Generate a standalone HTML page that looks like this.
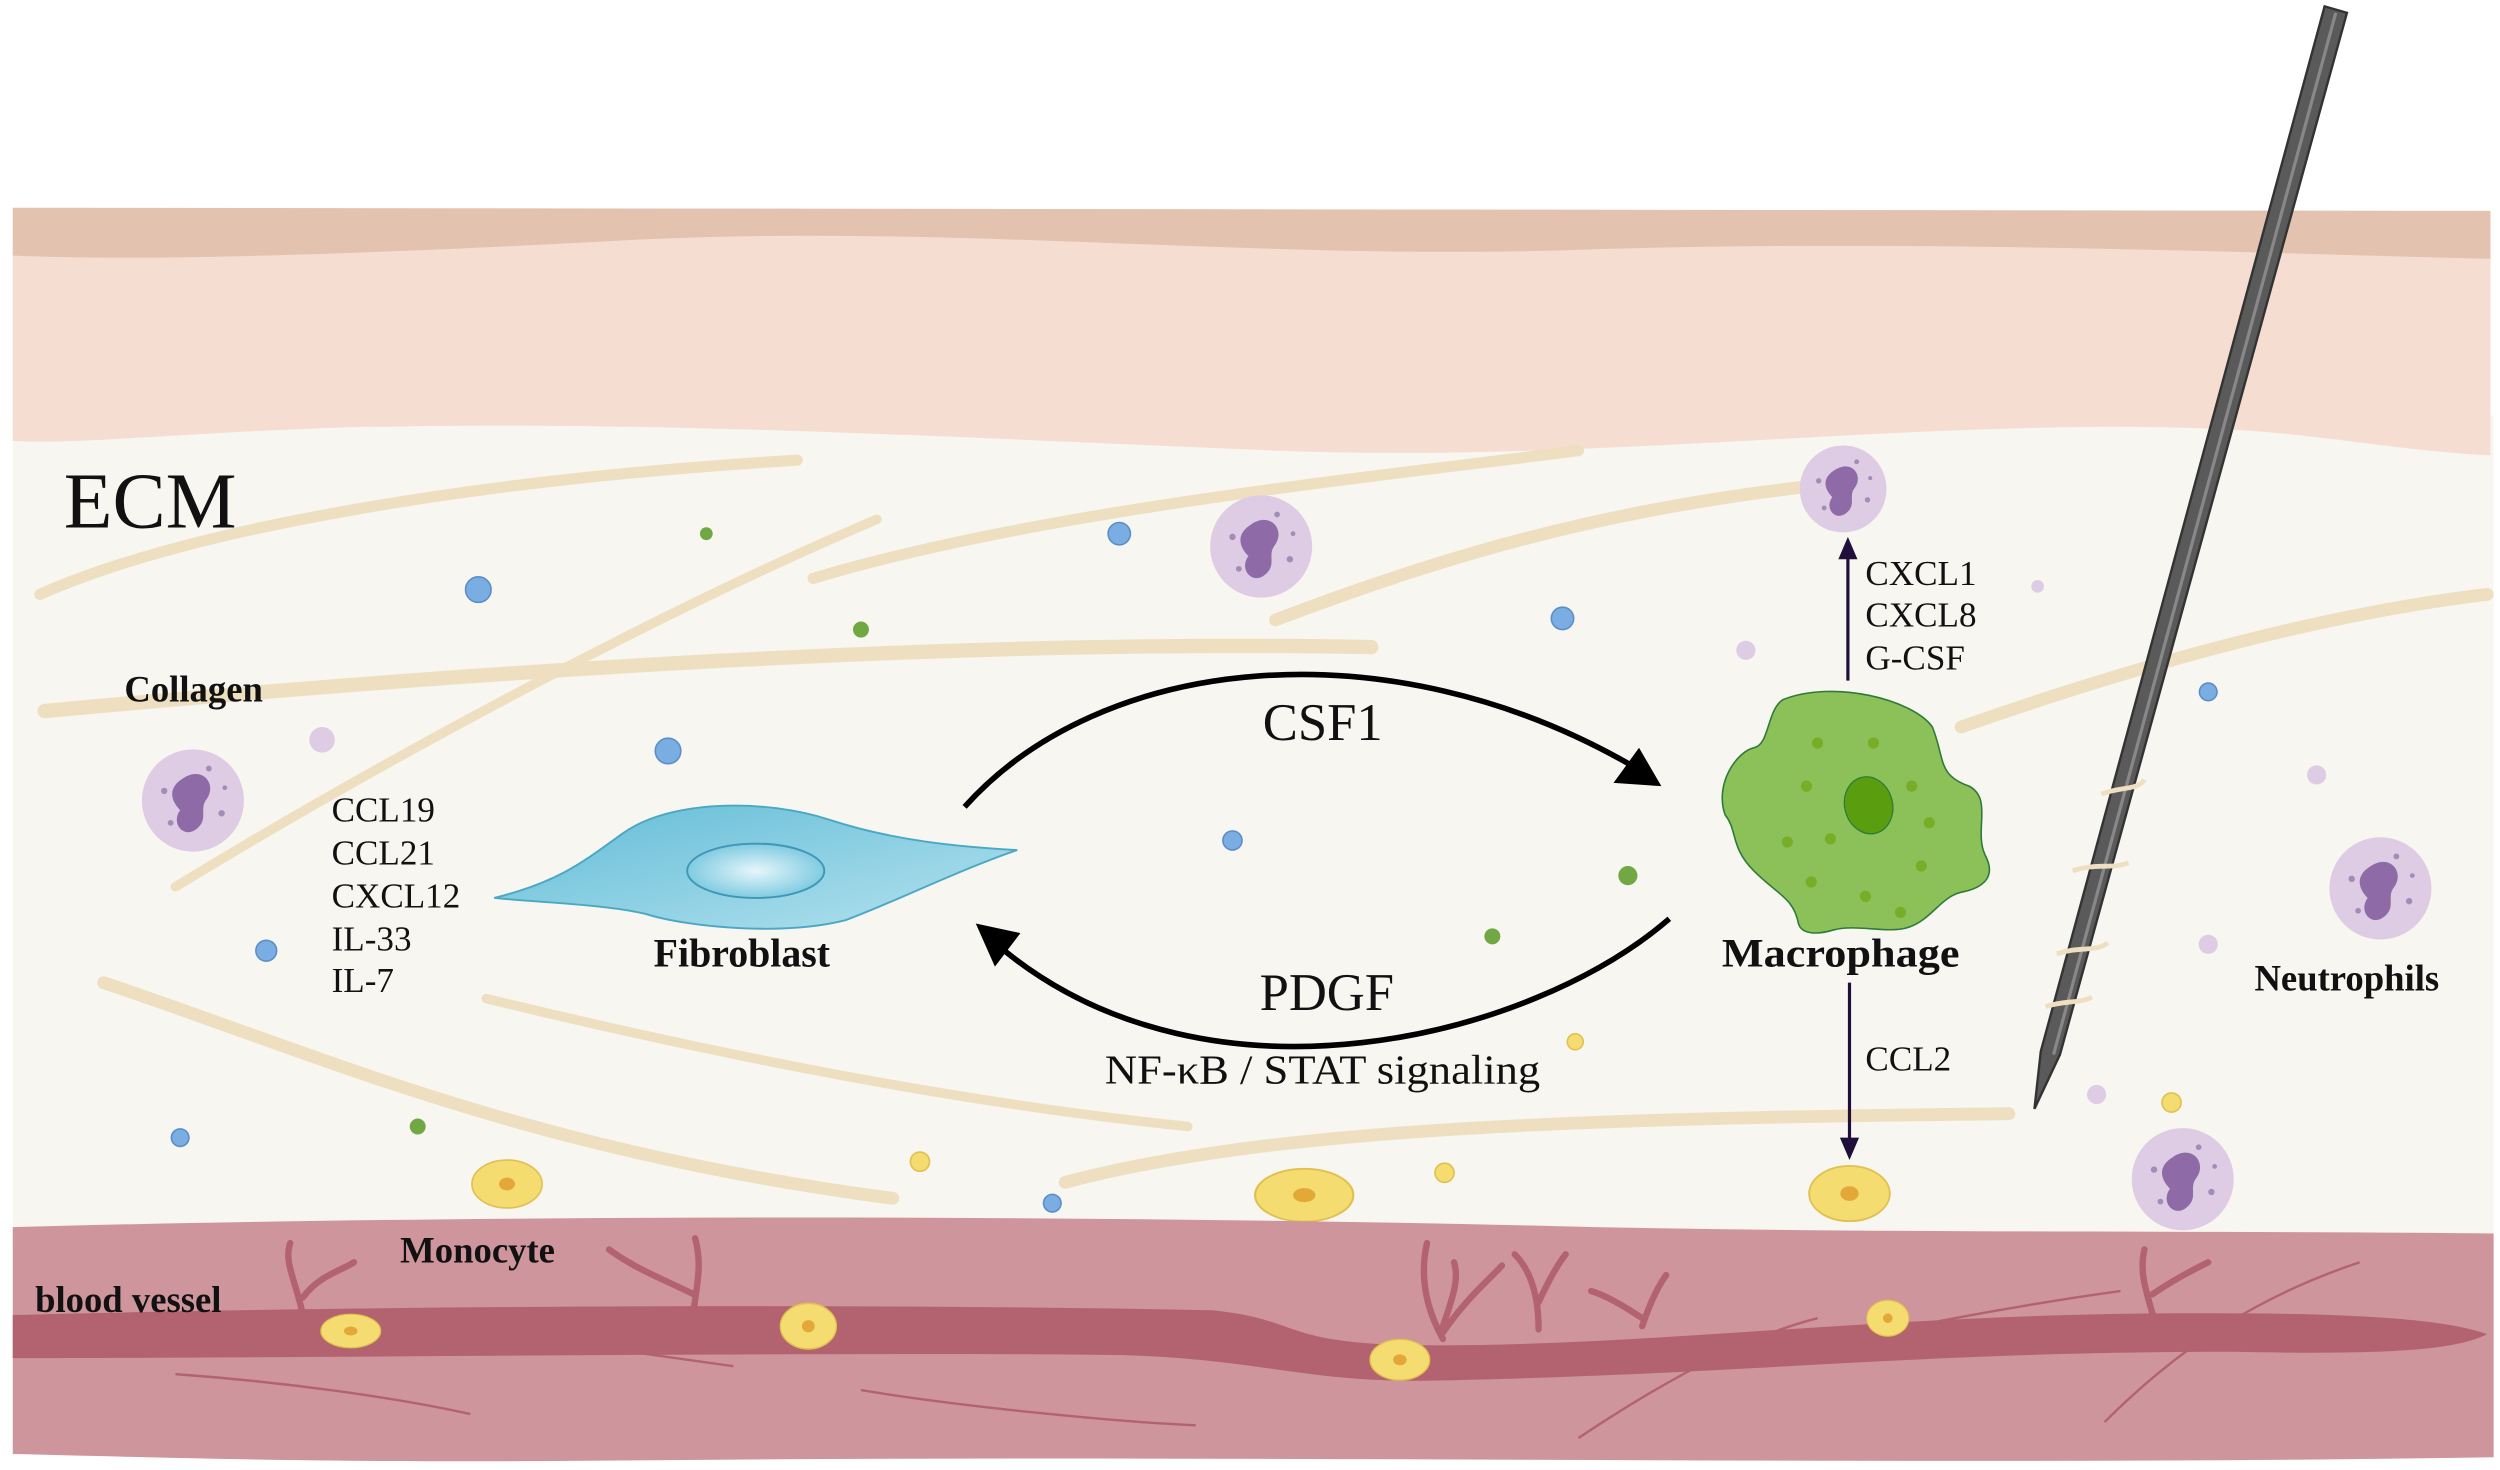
<!DOCTYPE html>
<html><head><meta charset="utf-8"><style>
html,body{margin:0;padding:0;background:#fff;}
svg{display:block;}
text{font-family:"Liberation Serif",serif;fill:#111;}
</style></head><body>
<svg width="2500" height="1470" viewBox="0 0 1568 920" preserveAspectRatio="none" xmlns="http://www.w3.org/2000/svg">
<defs>
<radialGradient id="fg" cx="0.5" cy="0.5" r="0.6"><stop offset="0" stop-color="#e6f6fb"/><stop offset="1" stop-color="#6cc3dc"/></radialGradient>
<linearGradient id="fb" x1="0" y1="0" x2="1" y2="1"><stop offset="0" stop-color="#62bcd6"/><stop offset="1" stop-color="#b4e2ef"/></linearGradient>
<g id="neu"><circle r="32" fill="#ddcce3"/><path d="M-6,-14 C6,-22 16,-10 8,0 C4,6 10,12 2,18 C-6,24 -14,14 -8,6 C-14,0 -16,-8 -6,-14Z" fill="#8e6ba6"/><circle cx="-18" cy="-6" r="2" fill="#a58bb8"/><circle cx="18" cy="8" r="2" fill="#a58bb8"/><circle cx="-14" cy="14" r="1.8" fill="#a58bb8"/><circle cx="10" cy="-20" r="1.8" fill="#a58bb8"/><circle cx="20" cy="-8" r="1.5" fill="#a58bb8"/></g>
<g id="mono"><ellipse rx="22" ry="15" fill="#f4dc70" stroke="#e0c050" stroke-width="1"/><ellipse rx="5" ry="4" fill="#e4a838"/></g>
</defs>
<rect width="1568" height="920" fill="#fff"/>
<rect x="8" y="260" width="1556" height="520" fill="#f8f6f1"/>
<path d="M8,130 L1562,132 L1562,285 C1500,282 1450,270 1380,268 C1200,262 1000,290 800,282 C600,274 400,262 200,268 C100,272 50,278 8,276 Z" fill="#f6ddd2"/>
<path d="M8,130 L1562,132 L1562,162 C1400,158 1200,150 1000,156 C800,164 600,140 400,150 C250,158 100,164 8,160 Z" fill="#e3c3b0"/>
<g fill="none" stroke="#eedfc1" stroke-linecap="round">
<path d="M25,372 C120,330 300,300 500,288" stroke-width="7"/>
<path d="M28,445 C300,420 600,400 860,405" stroke-width="9"/>
<path d="M110,555 C250,470 420,380 550,325" stroke-width="6"/>
<path d="M510,362 C650,320 850,300 990,282" stroke-width="7"/>
<path d="M800,388 C900,350 1000,320 1130,305" stroke-width="8"/>
<path d="M65,615 C200,660 330,720 560,750" stroke-width="8"/>
<path d="M305,625 C450,660 600,690 745,705" stroke-width="6"/>
<path d="M668,740 C800,705 1000,700 1260,697" stroke-width="8"/>
<path d="M1230,455 C1330,420 1450,385 1560,372" stroke-width="8"/>
</g>
<g fill="#7aaee2" stroke="#5b8ec8" stroke-width="1">
<circle cx="300" cy="369" r="8"/><circle cx="702" cy="334" r="7"/><circle cx="980" cy="387" r="7"/><circle cx="419" cy="470" r="8"/><circle cx="773" cy="526" r="6"/><circle cx="167" cy="595" r="6.5"/><circle cx="113" cy="712" r="5.5"/><circle cx="660" cy="753" r="5.5"/><circle cx="1385" cy="433" r="5.5"/>
</g>
<g fill="#72a844"><circle cx="443" cy="334" r="4"/><circle cx="540" cy="394" r="5"/><circle cx="1021" cy="548" r="6"/><circle cx="936" cy="586" r="5"/><circle cx="262" cy="705" r="5"/></g>
<g fill="#ddcce3"><circle cx="202" cy="463" r="8"/><circle cx="1095" cy="407" r="6"/><circle cx="1278" cy="367" r="4"/><circle cx="1453" cy="485" r="6"/><circle cx="1385" cy="591" r="6"/><circle cx="1315" cy="685" r="6"/></g>
<g fill="#f4dc70" stroke="#e0c050"><circle cx="988" cy="652" r="5"/><circle cx="577" cy="727" r="6"/><circle cx="906" cy="734" r="6"/><circle cx="1362" cy="690" r="6"/></g>
<use href="#neu" x="791" y="342"/><use href="#neu" transform="translate(1156,306) scale(0.85)"/><use href="#neu" x="121" y="501"/><use href="#neu" x="1493" y="556"/><use href="#neu" x="1369" y="738"/>
<use href="#mono" x="318" y="741"/><use href="#mono" transform="translate(818,748) scale(1.4,1.1)"/><use href="#mono" transform="translate(1160,747) scale(1.15)"/>
<path d="M8,768 C300,760 700,760 1000,768 C1200,772 1400,770 1564,772 L1564,912 C1200,918 800,910 400,914 C200,916 100,912 8,910 Z" fill="#cf959d"/>
<path d="M8,823 C200,818 500,815 760,820 C820,826 800,842 900,842 C1050,842 1200,820 1400,822 C1500,822 1540,828 1560,835 C1540,845 1500,848 1400,846 C1200,846 1100,860 900,864 C820,866 790,850 700,848 C500,846 200,850 8,850 Z" fill="#b2636f"/>
<g fill="none" stroke="#b2636f" stroke-width="4" stroke-linecap="round">
<path d="M190,823 C185,800 178,790 182,778 M190,812 C200,798 215,795 222,790"/>
<path d="M435,820 C438,800 440,790 436,775 M435,810 C415,800 400,795 382,782"/>
<path d="M905,838 C895,820 890,800 895,778 M905,830 C912,810 915,800 912,790 M905,834 C920,812 935,800 942,792"/>
<path d="M965,832 C965,810 960,795 950,785 M965,815 C972,800 978,790 982,785"/>
<path d="M1030,830 C1035,815 1040,805 1045,798 M1030,825 C1015,815 1005,810 998,808"/>
<path d="M1350,822 C1345,805 1342,795 1345,782 M1350,810 C1365,800 1375,795 1385,790"/>
</g>
<g fill="none" stroke="#b2636f" stroke-width="1.5">
<path d="M110,860 C180,865 250,875 295,885"/><path d="M540,870 C600,880 700,890 750,892"/><path d="M990,900 C1050,860 1100,835 1140,825"/><path d="M1320,890 C1370,840 1420,810 1480,790"/><path d="M280,830 C350,840 420,850 460,855"/><path d="M1200,830 C1250,820 1300,812 1330,808"/>
</g>
<use href="#mono" transform="translate(220,833) scale(0.85,0.7)"/><use href="#mono" transform="translate(507,830) scale(0.8,0.95)"/><use href="#mono" transform="translate(878,851) scale(0.85)"/><use href="#mono" transform="translate(1184,825) scale(0.6,0.75)"/>
<path d="M1458,4 L1472,8 L1292,660 L1276,694 L1280,658 Z" fill="#5a5a5a" stroke="#333" stroke-width="1.5"/>
<path d="M1465,8 L1288,660" stroke="#888" stroke-width="2"/>
<g stroke="#eedfc1" stroke-width="3" fill="none"><path d="M1318,497 C1330,492 1340,495 1345,488"/><path d="M1300,545 C1315,540 1325,544 1335,540"/><path d="M1290,597 C1305,592 1315,596 1322,590"/><path d="M1283,630 C1295,626 1305,628 1312,624"/></g>
<path d="M310,562 C350,552 365,540 390,522 C420,500 480,500 520,513 C560,526 600,530 638,532 C600,545 560,565 530,576 C490,586 430,580 405,572 C380,566 340,565 310,562 Z" fill="url(#fb)" stroke="#4aa8c4" stroke-width="1.2"/>
<ellipse cx="474" cy="545" rx="43" ry="17" fill="url(#fg)" stroke="#3f97b5" stroke-width="1.2"/>
<path d="M1118,438 C1150,425 1200,438 1212,455 C1220,475 1215,485 1235,492 C1250,500 1238,520 1245,535 C1252,548 1245,555 1232,558 C1218,560 1212,575 1198,580 C1185,585 1165,578 1150,582 C1140,585 1130,585 1128,578 C1125,562 1115,560 1100,545 C1085,530 1090,520 1082,510 C1075,490 1090,470 1100,468 C1110,466 1108,445 1118,438 Z" fill="#8cc15a" stroke="#2f7a3a" stroke-width="1"/>
<ellipse cx="1172" cy="504" rx="15" ry="18" transform="rotate(-15 1172 504)" fill="#5a9e10" stroke="#2f7a3a" stroke-width="0.8"/>
<g fill="#78ad28"><circle cx="1140" cy="465" r="3.5"/><circle cx="1175" cy="465" r="3.5"/><circle cx="1133" cy="492" r="3.5"/><circle cx="1199" cy="492" r="3.5"/><circle cx="1210" cy="515" r="3.5"/><circle cx="1121" cy="527" r="3.5"/><circle cx="1148" cy="525" r="3.5"/><circle cx="1205" cy="542" r="3.5"/><circle cx="1136" cy="552" r="3.5"/><circle cx="1170" cy="561" r="3.5"/><circle cx="1192" cy="571" r="3.5"/></g>
<path d="M605,505 C690,410 870,390 1025,480" fill="none" stroke="#000" stroke-width="3.5"/>
<path d="M1042,492 L1012,490 L1028,468 Z" fill="#000"/>
<path d="M1047,575 C960,650 760,700 630,595" fill="none" stroke="#000" stroke-width="3.5"/>
<path d="M612,578 L640,584 L624,605 Z" fill="#000"/>
<path d="M1159,426 L1159,345" stroke="#1f0f3a" stroke-width="2"/>
<path d="M1159,336 L1153,350 L1165,350 Z" fill="#1f0f3a"/>
<path d="M1160,615 L1160,716" stroke="#1f0f3a" stroke-width="2"/>
<path d="M1160,726 L1154,712 L1166,712 Z" fill="#1f0f3a"/>
<text x="40" y="330" font-size="50">ECM</text>
<text x="78" y="439" font-size="23" font-weight="bold">Collagen</text>
<g font-size="22"><text x="208" y="514">CCL19</text><text x="208" y="541">CCL21</text><text x="208" y="568">CXCL12</text><text x="208" y="595">IL-33</text><text x="208" y="621">IL-7</text></g>
<text x="410" y="605" font-size="25" font-weight="bold">Fibroblast</text>
<text x="792" y="463" font-size="33">CSF1</text>
<text x="790" y="632" font-size="33">PDGF</text>
<text x="693" y="678" font-size="26" textLength="273" lengthAdjust="spacingAndGlyphs">NF-κB / STAT signaling</text>
<text x="1080" y="605" font-size="25" font-weight="bold" textLength="149" lengthAdjust="spacingAndGlyphs">Macrophage</text>
<g font-size="22"><text x="1170" y="366">CXCL1</text><text x="1170" y="392">CXCL8</text><text x="1170" y="419">G-CSF</text><text x="1170" y="670">CCL2</text></g>
<text x="1414" y="620" font-size="23" font-weight="bold">Neutrophils</text>
<text x="251" y="790" font-size="23" font-weight="bold">Monocyte</text>
<text x="22" y="821" font-size="23" font-weight="bold">blood vessel</text>
</svg>
</body></html>
